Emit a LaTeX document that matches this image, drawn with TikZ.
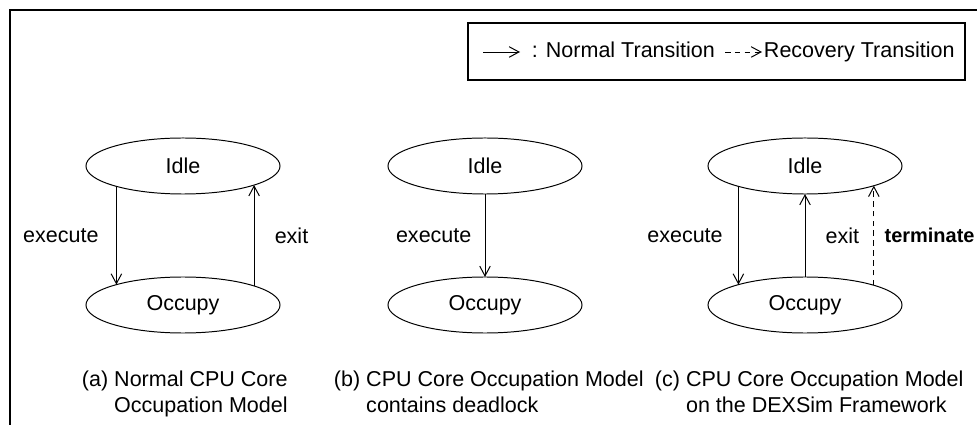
\documentclass[tikz,border=0pt]{standalone}
\usepackage{fontspec}
\setmainfont{Liberation Sans}
\usetikzlibrary{shapes.geometric,arrows.meta}

\begin{document}
\begin{tikzpicture}[x=0.025cm,y=-0.025cm,
  font=\fontsize{15.3}{18.5}\selectfont,
  state/.style={draw,ellipse,minimum width=4.85cm,minimum height=1.4cm,inner sep=0pt,outer sep=0pt,line width=0.7pt},
  trans/.style={-{Straight Barb[length=7pt,width=7.5pt]},line width=0.7pt}]
\useasboundingbox (0,0) rectangle (977,425);
\draw[line width=1.2pt] (10,425) -- (10,10) -- (977,10);

\draw[line width=0.8pt] (468,23) rectangle (965,80);
\coordinate (L1) at (483,52);
\coordinate (L2) at (520,52);
\coordinate (L3) at (725,52);
\coordinate (L4) at (762,52);
\draw[trans] (L1) -- (L2);
\node[anchor=base west] (Ln) at (527,58) {: Normal Transition};
\draw[trans,dash pattern=on 4pt off 3pt] (L3) -- (L4);
\node[anchor=base west] (Lr) at (759,58) {Recovery Transition};

\node[state] (I1) at (183,166) {Idle};
\node[state] (O1) at (183,305) {Occupy};
\draw[trans] (I1.-163.6) -- node[left=9pt]{execute} (O1.163.6);
\draw[trans] (O1.15.9) -- node[right=11pt]{exit} (I1.-15.9);

\node[state] (I2) at (485,166) {Idle};
\node[state] (O2) at (485,305) {Occupy};
\draw[trans] (I2) -- node[left=6pt]{execute} (O2);

\node[state] (I3) at (805,166) {Idle};
\node[state] (O3) at (805,305) {Occupy};
\draw[trans] (I3.-163.6) -- node[left=7.5pt]{execute} (O3.163.6);
\draw[trans] (O3) -- node[right=11pt]{exit} (I3);
\draw[trans,dash pattern=on 4pt off 3pt] (O3.16.4) -- node[right=4pt]{\fontsize{14.2}{17}\selectfont\bfseries terminate} (I3.-16.4);

\node[anchor=base west] (C1) at (77,386) {(a) \begin{tabular}[t]{@{}l@{}}Normal CPU Core\\Occupation Model\end{tabular}};
\node[anchor=base west] (C2) at (329,386) {(b) \begin{tabular}[t]{@{}l@{}}CPU Core Occupation Model\\contains deadlock\end{tabular}};
\node[anchor=base west] (C3) at (650,386) {(c) \begin{tabular}[t]{@{}l@{}}CPU Core Occupation Model\\on the DEXSim Framework\end{tabular}};
\end{tikzpicture}
\end{document}
